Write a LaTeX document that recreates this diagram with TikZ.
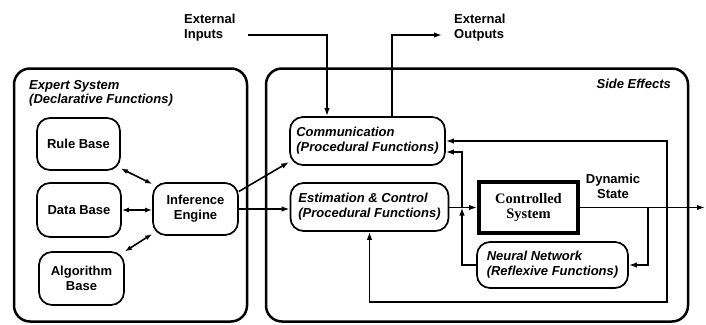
\documentclass[tikz,border=0pt]{standalone}
\usepackage{fontspec}
\setmainfont{Liberation Sans}
\newfontfamily\serifbf{Liberation Serif}
\usetikzlibrary{arrows.meta,calc}
\begin{document}
\begin{tikzpicture}[x=1pt,y=-1pt,
  bigbox/.style={draw,line width=2.5pt,rounded corners=16pt,inner sep=0pt},
  smallbox/.style={draw,line width=1.7pt,rounded corners=13pt,inner sep=1pt,
    font=\fontsize{13}{15}\selectfont\bfseries,align=center},
  procbox/.style={smallbox,align=left,font=\fontsize{13}{15}\selectfont\bfseries\itshape},
  ctrlbox/.style={draw,line width=3.8pt,inner sep=2pt,align=center,
    font=\fontsize{14.5}{15.5}\selectfont\serifbf\bfseries},
  lbl/.style={inner sep=0pt,font=\fontsize{13}{15}\selectfont\bfseries},
  ilbl/.style={inner sep=0pt,font=\fontsize{13}{14.5}\selectfont\bfseries\itshape},
  arr/.style={line width=1.6pt,-{Latex[length=8pt,width=5.5pt]}},
  darr/.style={line width=1.6pt,{Latex[length=7pt,width=5pt]}-{Latex[length=7pt,width=5pt]}}
]
\useasboundingbox (0,0) rectangle (706,324);

% big frames
\node[bigbox,minimum width=233pt,minimum height=253pt] (expert) at (130.5,195) {};
\node[bigbox,minimum width=422pt,minimum height=253pt] (side) at (477,195) {};
\node[ilbl,anchor=north west,align=left] (expertlbl) at (29,80) {Expert System\\(Declarative Functions)};
\node[ilbl,anchor=east] (sidelbl) at (671,84) {Side Effects};

% left nodes
\node[smallbox,minimum width=83pt,minimum height=52pt] (rule) at (78.5,144) {Rule Base};
\node[smallbox,minimum width=84pt,minimum height=54pt] (data) at (79,210) {Data Base};
\node[smallbox,minimum width=85pt,minimum height=53pt] (algo) at (81.5,278.5) {Algorithm\\Base};
\node[smallbox,minimum width=85pt,minimum height=52pt] (inf) at (195.5,209) {Inference\\Engine};

% right nodes
\node[procbox,minimum width=155pt,minimum height=48pt] (comm) at (367.5,141) {Communication\\(Procedural Functions)};
\node[procbox,minimum width=158pt,minimum height=48pt] (est) at (369.5,207) {Estimation \& Control\\(Procedural Functions)};
\node[ctrlbox,minimum width=99pt,minimum height=51pt] (ctrl) at (528.5,207.5) {Controlled\\System};
\node[procbox,minimum width=151pt,minimum height=46pt] (nn) at (552.5,265) {Neural Network\\(Reflexive Functions)};

% external labels
\node[lbl,anchor=west,align=left] (inputs) at (184,28) {External\\Inputs};
\node[lbl,anchor=west,align=left] (outputs) at (454,28) {External\\Outputs};
\node[lbl,align=center] (dyn) at (613,186) {Dynamic\\State};

\coordinate (inE) at (248,35);
\coordinate (outW) at (442,35);
\coordinate (outEnd) at (705,207.5);
\coordinate (b1) at (648,207.5);
\coordinate (b2) at (667,207.5);
\coordinate (j) at (462,207.5);

% connectors
\draw[arr] (inE) -| (327,0 |- comm.north);
\draw[arr] (392,0 |- comm.north) |- (outW);
\draw[darr] (rule.-30) -- (inf.150);
\draw[darr] (data.east) -- (inf.west |- data.east);
\draw[darr] (algo.32) -- (inf.210);
\draw[arr] (inf.22) -- (comm.195);
\draw[arr] (inf.east) -- (inf.east -| est.west);
\draw[arr] (est.east |- j) -- (ctrl.west |- j);
\draw[arr] (ctrl.east |- b1) -- (outEnd);
\draw[arr] (b1) |- (nn.east);
\draw[arr] (nn.west) -| (j);
\draw[arr] (j) |- ($(comm.east)+(0,11)$);
\draw[arr] (b2) |- (comm.east);
\draw[arr] (b2) |- (est.south |- 0,302) -- (est.south);
\end{tikzpicture}
\end{document}
